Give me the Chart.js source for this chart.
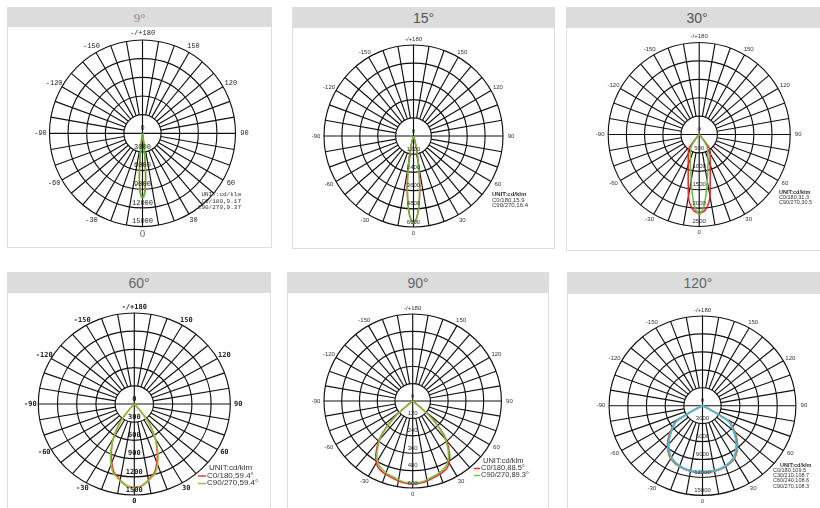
<!DOCTYPE html>
<html>
<head>
<meta charset="utf-8">
<script src="https://cdn.jsdelivr.net/npm/chart.js@4.4.0/dist/chart.umd.min.js"></script>
<style>
  body { margin: 0; background: #fff; }
  #page { position: relative; width: 820px; height: 508px; overflow: hidden; }
  .panel { position: absolute; border: 1px solid #dedede; box-sizing: border-box; }
  .head { position: absolute; left: 0; right: 0; top: 0; background: #dcdcdc; text-align: center;
          color: #5a5a5a; font-family: 'Liberation Sans', Arial, sans-serif; font-size: 14px; }
  canvas { position: absolute; }
</style>
</head>
<body>
<div id="page"></div>
<script>
// Polar light distribution diagrams, intensities in cd/klm, angle measured from nadir.

// ---- data ----
const angleTicks = [0, 30, 60, 90, 120, 150, 180, 210, 240, 270, 300, 330];
const angleTickLabels = ['0', '30', '60', '90', '120', '150', '-/+180', '-150', '-120', '-90', '-60', '-30'];

// 9°
const rings9 = ['0', '3000', '6000', '9000', '12000', '15000'];
const gamma9 = [0, 1, 2, 3, 4, 5, 6, 7, 8, 10, 12, 15, 20, 30, 90];
const c0_9 = [10200, 10050, 9600, 8700, 7300, 5400, 3600, 2200, 1300, 500, 200, 80, 30, 10, 0];
const c90_9 = [10400, 10250, 9700, 8650, 7100, 5100, 3300, 1900, 1000, 380, 140, 50, 20, 5, 0];

// 15°
const rings15 = ['0', '1200', '2400', '3600', '4800', '6000'];
const gamma15 = [0, 2, 4, 6, 8, 10, 12, 14, 16, 20, 25, 30, 90];
const c0_15 = [5700, 5480, 4830, 3930, 2940, 2010, 1280, 750, 400, 90, 20, 5, 0];
const c90_15 = [5740, 5480, 4780, 3850, 2830, 1900, 1180, 670, 350, 80, 20, 5, 0];

// 30°
const rings30 = ['0', '500', '1000', '1500', '2000', '2500'];
const gamma30 = [0, 4, 8, 10, 12, 15, 20, 25, 30, 34, 37, 39, 42, 50, 90];
const c0_30 = [2120, 2080, 1880, 1700, 1450, 1170, 880, 715, 600, 530, 450, 200, 40, 5, 0];
const c90_30 = [2180, 1930, 1480, 1280, 1100, 920, 720, 560, 460, 380, 180, 80, 20, 0, 0];

// 60°
const rings60 = ['0', '300', '600', '900', '1200', '1500'];
const gamma60 = [0, 5, 9, 13, 16, 20, 24, 28, 31, 34, 37, 40, 43, 50, 90];
const c0_60 = [1375, 1350, 1290, 1215, 1160, 1030, 880, 735, 610, 480, 345, 165, 35, 0, 0];
const c90_60 = [1385, 1360, 1300, 1235, 1190, 1065, 915, 745, 595, 455, 330, 150, 30, 0, 0];

// 90°
const rings90 = ['0', '120', '240', '360', '480', '600'];
const gamma90 = [0, 7, 14, 20, 26, 30, 34, 40, 44, 48, 50, 53, 60, 90];
const c0_90 = [572, 567, 550, 537, 520, 492, 447, 356, 266, 163, 72, 10, 0, 0];
const c90_90 = [565, 560, 540, 527, 505, 478, 432, 345, 255, 155, 65, 8, 0, 0];

// 120°
const rings120 = ['0', '3000', '6000', '9000', '12000', '15000'];
const gamma120 = [0, 10, 20, 30, 36, 42, 48, 54, 58, 60, 62, 65, 70, 90];
const c0_120 = [11250, 11150, 10850, 10250, 9450, 8400, 7200, 5950, 5150, 3450, 1650, 330, 0, 0];
const c30_120 = [11200, 11100, 10800, 10150, 9350, 8250, 7050, 5850, 5100, 3400, 1600, 320, 0, 0];
const c60_120 = [11150, 11050, 10750, 10050, 9200, 8100, 6900, 5750, 5050, 3300, 1550, 300, 0, 0];
const c90_120 = [11100, 11000, 10700, 10000, 9100, 8000, 6800, 5700, 5000, 3200, 1500, 300, 0, 0];

// ---- panel layout ----
const SANS = "'Liberation Sans', Arial, sans-serif";
const panels = [
  {
    title: '9°', titleFont: "13px 'Liberation Serif', serif", titleColor: '#8c8c8c',
    frame: [7, 7, 265, 241, 19], box: [8, 26, 263, 220], cx: 142.5, cy: 133.3, rx: 93, ry: 93.3,
    rings: rings9, gamma: gamma9,
    series: [{ v: c0_9, color: '#c98a2e' }, { v: c90_9, color: '#62b238' }],
    tickFont: "7px 'Liberation Mono', monospace", tickColor: '#222', tickOff: 7,
    zeroFont: "11px 'Liberation Serif', serif", zeroColor: '#666',
    legend: [
      { t: 'UNIT:cd/klm', x: 241, y: 194, align: 'right', font: "6px 'Liberation Mono', monospace" },
      { t: 'C0/180,9.17', x: 241, y: 201, align: 'right', font: "6px 'Liberation Mono', monospace" },
      { t: 'C90/270,9.37', x: 241, y: 207.5, align: 'right', font: "6px 'Liberation Mono', monospace" }
    ]
  },
  {
    title: '15°', titleFont: '14px ' + SANS, titleColor: '#555',
    frame: [292, 7, 263, 242, 20], box: [293, 28, 260, 220], cx: 413.5, cy: 136, rx: 89.5, ry: 91,
    rings: rings15, gamma: gamma15,
    series: [{ v: c0_15, color: '#e3262d' }, { v: c90_15, color: '#6dbb3f' }],
    tickFont: '6px ' + SANS, tickColor: '#333', tickOff: 6,
    legend: [
      { t: 'UNIT:cd/klm', x: 492, y: 194.3, font: 'bold 6px ' + SANS },
      { t: 'C0/180,15.9', x: 492, y: 200, font: '6px ' + SANS },
      { t: 'C90/270,16.4', x: 492, y: 205.5, font: '6px ' + SANS }
    ]
  },
  {
    title: '30°', titleFont: '14px ' + SANS, titleColor: '#555',
    frame: [566, 7, 262, 244, 20], box: [567, 28, 253, 222], cx: 699.2, cy: 134.5, rx: 91, ry: 92,
    rings: rings30, gamma: gamma30,
    series: [{ v: c0_30, color: '#e3262d' }, { v: c90_30, color: '#6dbb3f' }],
    tickFont: '6px ' + SANS, tickColor: '#333', tickOff: 6,
    legend: [
      { t: 'UNIT:cd/klm', x: 779, y: 192.7, font: 'bold 5.5px ' + SANS },
      { t: 'C0/180,31.3', x: 779, y: 197.7, font: '5.5px ' + SANS },
      { t: 'C90/270,30.5', x: 779, y: 202.5, font: '5.5px ' + SANS }
    ]
  },
  {
    title: '60°', titleFont: '14px ' + SANS, titleColor: '#666',
    frame: [7, 272, 264, 240, 20], box: [8, 293, 262, 215], cx: 134.3, cy: 404, rx: 96, ry: 91,
    rings: rings60, gamma: gamma60,
    series: [{ v: c0_60, color: '#ee3b3b' }, { v: c90_60, color: '#8cc63f' }],
    tickFont: "bold 7px 'DejaVu Sans Mono', monospace", tickColor: '#222', tickOff: 6,
    legend: [
      { t: 'UNIT:cd/klm', x: 209, y: 467.3, font: '8px ' + SANS },
      { t: 'C0/180,59.4°', x: 207, y: 475.5, font: '8px ' + SANS, swatch: '#ee3b3b', sx: 198 },
      { t: 'C90/270,59.4°', x: 207, y: 483, font: '8px ' + SANS, swatch: '#8cc63f', sx: 198 }
    ]
  },
  {
    title: '90°', titleFont: '14px ' + SANS, titleColor: '#666',
    frame: [287, 272, 262, 240, 20], box: [288, 293, 260, 215], cx: 412.7, cy: 401, rx: 88.7, ry: 87,
    rings: rings90, gamma: gamma90,
    series: [{ v: c0_90, color: '#e52b2b' }, { v: c90_90, color: '#7ac143' }],
    tickFont: '6px ' + SANS, tickColor: '#333', tickOff: 6,
    legend: [
      { t: 'UNIT:cd/klm', x: 483, y: 461, font: '7.5px ' + SANS },
      { t: 'C0/180,88.5°', x: 481, y: 468, font: '7.5px ' + SANS, swatch: '#e52b2b', sx: 474 },
      { t: 'C90/270,89.3°', x: 481, y: 475, font: '7.5px ' + SANS, swatch: '#7ac143', sx: 474 }
    ]
  },
  {
    title: '120°', titleFont: '14px ' + SANS, titleColor: '#666',
    frame: [567, 272, 262, 240, 21], box: [568, 294, 252, 214], cx: 702.5, cy: 405.7, rx: 93.4, ry: 89.7,
    rings: rings120, gamma: gamma120,
    series: [
      { v: c0_120, color: '#e0452b' }, { v: c30_120, color: '#e8932a' },
      { v: c60_120, color: '#3c96c8' }, { v: c90_120, color: '#4cbad8' }
    ],
    tickFont: '6px ' + SANS, tickColor: '#333', tickOff: 6,
    legend: [
      { t: 'UNIT:cd/klm', x: 780, y: 465, font: 'bold 5.5px ' + SANS },
      { t: 'C0/180,109.5', x: 773, y: 470.3, font: '5.5px ' + SANS },
      { t: 'C30/210,108.7', x: 773, y: 475.5, font: '5.5px ' + SANS },
      { t: 'C60/240,108.6', x: 773, y: 480.7, font: '5.5px ' + SANS },
      { t: 'C90/270,108.3', x: 773, y: 486, font: '5.5px ' + SANS }
    ]
  }
];

// converts one C-plane profile (mirrored to both halves) into x/y points
function toXY(gamma, values) {
  const pts = [];
  for (let i = gamma.length - 1; i > 0; i--) {
    const a = -gamma[i] * Math.PI / 180;
    pts.push({ x: values[i] * Math.sin(a), y: -values[i] * Math.cos(a) });
  }
  for (let i = 0; i < gamma.length; i++) {
    const a = gamma[i] * Math.PI / 180;
    pts.push({ x: values[i] * Math.sin(a), y: -values[i] * Math.cos(a) });
  }
  return pts;
}

// grid, scale labels and legend drawn against the chart's own x/y scales
const polarGrid = {
  id: 'polarGrid',
  beforeDatasetsDraw(chart, args, o) {
    const { ctx, scales: { x, y } } = chart;
    const M = o.max;
    const cx = x.getPixelForValue(0), cy = y.getPixelForValue(0);
    const rx = x.getPixelForValue(M) - cx, ry = cy - y.getPixelForValue(M);
    ctx.save();
    ctx.strokeStyle = '#111';
    ctx.lineWidth = 1.15;
    for (let i = 1; i <= 5; i++) {
      ctx.beginPath();
      ctx.ellipse(cx, cy, rx * i / 5, ry * i / 5, 0, 0, Math.PI * 2);
      ctx.stroke();
    }
    for (let d = 0; d < 360; d += 10) {
      const s = Math.sin(d * Math.PI / 180), c = Math.cos(d * Math.PI / 180);
      const r0 = d % 90 === 0 ? 0 : M / 5;
      ctx.beginPath();
      ctx.moveTo(x.getPixelForValue(r0 * s), y.getPixelForValue(-r0 * c));
      ctx.lineTo(x.getPixelForValue(M * s), y.getPixelForValue(-M * c));
      ctx.stroke();
    }
    ctx.restore();
  },
  afterDatasetsDraw(chart, args, o) {
    const { ctx, scales: { x, y } } = chart;
    const M = o.max;
    const cx = x.getPixelForValue(0), cy = y.getPixelForValue(0);
    const rx = x.getPixelForValue(M) - cx, ry = cy - y.getPixelForValue(M);
    ctx.save();
    ctx.textAlign = 'center';
    ctx.textBaseline = 'middle';
    ctx.fillStyle = o.tickColor;
    ctx.font = o.tickFont;
    // ring values along the downward axis
    o.rings.forEach((lab, i) => {
      ctx.fillText(lab, cx, y.getPixelForValue(-M * i / 5) - 5);
    });
    // angle labels
    angleTicks.forEach((d, i) => {
      const s = Math.sin(d * Math.PI / 180), c = Math.cos(d * Math.PI / 180);
      const px = cx + (rx + o.tickOff + 2) * s, py = cy + (ry + o.tickOff) * c;
      if (d === 0 && o.zeroFont) {
        ctx.font = o.zeroFont; ctx.fillStyle = o.zeroColor;
        ctx.fillText(angleTickLabels[i], px, py + 1);
        ctx.font = o.tickFont; ctx.fillStyle = o.tickColor;
      } else {
        ctx.fillText(angleTickLabels[i], px, py);
      }
    });
    // legend
    o.legend.forEach(l => {
      ctx.font = l.font;
      ctx.fillStyle = '#333';
      ctx.textAlign = l.align || 'left';
      ctx.fillText(l.t, l.x - o.ox, l.y - o.oy);
      if (l.swatch) {
        ctx.strokeStyle = l.swatch;
        ctx.lineWidth = 1.5;
        ctx.beginPath();
        ctx.moveTo(l.sx - o.ox, l.y - o.oy + 0.5);
        ctx.lineTo(l.x - 1 - o.ox, l.y - o.oy + 0.5);
        ctx.stroke();
      }
    });
    ctx.restore();
  }
};

const page = document.getElementById('page');

panels.forEach(p => {
  const [fx, fy, fw, fh, hh] = p.frame;
  const frame = document.createElement('div');
  frame.className = 'panel';
  frame.style.cssText = `left:${fx}px;top:${fy}px;width:${fw}px;height:${fh}px;`;
  const head = document.createElement('div');
  head.className = 'head';
  head.style.cssText = `height:${hh}px;font:${p.titleFont};line-height:${hh}px;color:${p.titleColor};`;
  head.textContent = p.title;
  frame.appendChild(head);
  page.appendChild(frame);

  const [bx, by, bw, bh] = p.box;
  const cv = document.createElement('canvas');
  cv.width = bw; cv.height = bh;
  cv.style.cssText = `left:${bx}px;top:${by}px;width:${bw}px;height:${bh}px;`;
  page.appendChild(cv);

  const M = parseFloat(p.rings[p.rings.length - 1]);
  new Chart(cv, {
    type: 'scatter',
    data: {
      // later series are drawn on top, as in the source diagrams
      datasets: p.series.map((s, i) => ({
        data: toXY(p.gamma, s.v),
        order: -i,
        showLine: true,
        borderColor: s.color,
        borderWidth: 1.5,
        pointRadius: 0,
        tension: 0.3,
        fill: false
      }))
    },
    options: {
      responsive: false,
      animation: false,
      events: [],
      layout: { padding: 0 },
      plugins: {
        legend: { display: false },
        tooltip: { enabled: false },
        polarGrid: {
          max: M, rings: p.rings, ox: bx, oy: by, legend: p.legend,
          tickFont: p.tickFont, tickColor: p.tickColor, tickOff: p.tickOff,
          zeroFont: p.zeroFont, zeroColor: p.zeroColor
        }
      },
      scales: {
        x: { type: 'linear', display: false, min: (bx - p.cx) / p.rx * M, max: (bx + bw - p.cx) / p.rx * M },
        y: { type: 'linear', display: false, min: -(by + bh - p.cy) / p.ry * M, max: (p.cy - by) / p.ry * M }
      }
    },
    plugins: [polarGrid]
  });
});
</script>
</body>
</html>
